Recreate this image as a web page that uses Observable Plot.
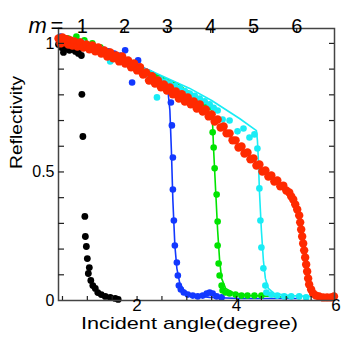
<!DOCTYPE html>
<html><head><meta charset="utf-8">
<script src="https://cdn.jsdelivr.net/npm/d3@7"></script>
<script src="https://cdn.jsdelivr.net/npm/@observablehq/plot@0.6"></script>
<style>body{margin:0;background:#fff} svg{display:block}</style>
</head><body><div id="chart"></div>
<script>
// Reflectivity vs incident angle (degree)
const blackPts = [[0.42,0.996],[0.48,0.984],[0.52,0.965],[0.58,0.981],[0.64,0.973],[0.70,0.977],[0.76,0.969],[0.82,0.961],[0.86,0.981],[0.88,0.953],[0.89,0.802],[0.91,0.638],[0.95,0.327],[0.96,0.249],[0.98,0.210],[1.00,0.163],[1.04,0.128],[1.02,0.105],[1.07,0.078],[1.11,0.058],[1.16,0.047],[1.21,0.031],[1.28,0.023],[1.36,0.016],[1.46,0.012],[1.56,0.008],[1.62,0.004]];

const bluePts = [[0.46,1.027],[0.58,1.019],[0.70,1.012],[0.82,1.008],[0.94,1.000],[1.06,0.992],[1.18,0.984],[1.30,0.977],[1.42,0.969],[1.54,0.961],[1.66,0.953],[1.76,0.973],[1.90,0.848],[2.02,0.934],[2.14,0.879],[2.26,0.864],[2.38,0.852],[2.50,0.837],[2.60,0.825],[2.68,0.770],[2.70,0.681],[2.72,0.556],[2.72,0.432],[2.74,0.311],[2.76,0.214],[2.80,0.148],[2.82,0.097],[2.84,0.058],[2.88,0.043],[2.94,0.031],[3.02,0.023],[3.12,0.019],[3.22,0.016],[3.32,0.019],[3.40,0.027],[3.46,0.031],[3.52,0.027],[3.60,0.016],[3.70,0.012]];
const blueCalc = [[0.42,1.019],[1.26,0.973],[2.26,0.895],[2.58,0.860],[2.62,0.817],[2.66,0.739],[2.69,0.584],[2.72,0.389],[2.76,0.214],[2.80,0.125],[2.86,0.066],[2.96,0.035],[3.16,0.019],[3.46,0.012],[4.06,0.008],[5.26,0.008]];

const greenPts = [[0.46,1.012],[0.62,1.019],[0.78,1.027],[0.94,1.012],[1.10,1.000],[1.26,0.985],[1.42,0.965],[1.58,0.948],[1.74,0.932],[1.90,0.916],[2.06,0.900],[2.22,0.884],[2.38,0.868],[2.54,0.853],[2.70,0.838],[2.86,0.822],[3.02,0.805],[3.18,0.786],[3.34,0.767],[3.46,0.752],[3.52,0.654],[3.54,0.595],[3.56,0.514],[3.60,0.412],[3.62,0.307],[3.62,0.214],[3.64,0.144],[3.66,0.097],[3.70,0.058],[3.72,0.039],[3.78,0.031],[3.86,0.027],[3.98,0.023],[4.10,0.019],[4.22,0.019],[4.36,0.019],[4.50,0.019]];
const greenCalc = [[0.42,1.019],[1.26,0.973],[2.26,0.887],[2.82,0.844],[3.06,0.805],[3.50,0.747],[3.52,0.681],[3.54,0.584],[3.58,0.428],[3.62,0.272],[3.66,0.156],[3.70,0.086],[3.78,0.047],[3.96,0.027],[4.26,0.019],[4.76,0.016],[5.06,0.012]];

const cyanPts = [[0.50,1.019],[0.70,1.012],[0.90,1.004],[1.10,0.990],[1.30,0.975],[1.46,0.930],[1.62,0.950],[1.82,0.932],[2.06,0.895],[2.26,0.875],[2.40,0.790],[2.46,0.860],[2.56,0.852],[2.66,0.844],[2.76,0.834],[2.86,0.825],[2.96,0.815],[3.06,0.805],[3.16,0.796],[3.26,0.786],[3.36,0.775],[3.46,0.763],[3.54,0.750],[3.62,0.739],[3.72,0.704],[3.86,0.700],[4.02,0.658],[4.14,0.669],[4.26,0.634],[4.36,0.646],[4.42,0.591],[4.46,0.436],[4.48,0.311],[4.50,0.206],[4.54,0.125],[4.58,0.058],[4.60,0.031],[4.70,0.023],[4.82,0.019],[4.96,0.016],[5.10,0.016],[5.26,0.016],[5.40,0.012]];
const cyanCalc = [[0.42,1.023],[1.26,0.973],[2.26,0.895],[3.06,0.825],[3.50,0.778],[4.06,0.708],[4.40,0.661],[4.42,0.623],[4.44,0.545],[4.46,0.428],[4.50,0.272],[4.54,0.156],[4.58,0.086],[4.64,0.047],[4.76,0.027],[5.06,0.019],[5.46,0.016],[5.86,0.012]];

const redX = [0.42,0.46,0.50,0.54,0.58,0.62,0.66,0.70,0.74,0.80,0.86,0.92,0.98,1.04,1.10,1.16,1.22,1.28,1.34,1.40,1.46,1.52,1.58,1.64,1.70,1.76,1.82,1.88,1.94,2.00,2.06,2.12,2.18,2.24,2.30,2.36,2.42,2.48,2.54,2.60,2.66,2.72,2.78,2.84,2.90,2.96,3.02,3.08,3.14,3.20,3.26,3.32,3.38,3.44,3.50,3.56,3.62,3.68,3.74,3.80,3.86,3.92,3.98,4.04,4.10,4.16,4.22,4.28,4.34,4.40,4.46,4.52,4.58,4.64,4.70,4.76,4.82,4.88,4.94,5.00,5.06,5.10,5.14,5.18,5.22,5.26,5.28,5.30,5.32,5.34,5.36,5.38,5.40,5.42,5.44,5.46,5.50,5.54,5.60,5.66,5.74,5.82,5.90,5.96];
const redY = [1.019,1.000,1.023,1.004,1.016,0.996,1.012,0.992,1.008,0.988,1.004,0.984,0.996,0.977,0.992,0.969,0.984,0.961,0.973,0.949,0.965,0.942,0.953,0.930,0.949,0.922,0.934,0.907,0.922,0.895,0.907,0.879,0.887,0.856,0.872,0.844,0.856,0.829,0.840,0.817,0.829,0.802,0.813,0.786,0.802,0.774,0.790,0.763,0.774,0.747,0.763,0.735,0.743,0.716,0.724,0.696,0.704,0.673,0.677,0.650,0.650,0.623,0.623,0.595,0.599,0.572,0.576,0.549,0.553,0.525,0.529,0.502,0.506,0.482,0.486,0.463,0.467,0.444,0.447,0.428,0.420,0.405,0.393,0.374,0.354,0.331,0.304,0.276,0.249,0.222,0.195,0.167,0.140,0.113,0.086,0.062,0.043,0.027,0.019,0.016,0.012,0.012,0.012,0.016];

// axes
const xTicks = [0.5,1,1.5,2,2.5,3,3.5,4,4.5,5,5.5];
const xLabels = [2,4,6];
const yTicks = [0.1,0.2,0.3,0.4,0.5,0.6,0.7,0.8,0.9,1.0];
const yLabels = [0,0.5,1];
const mLabels = [1,2,3,4,5,6];
const mAngles = [0.90,1.75,2.61,3.48,4.34,5.21];
const xTitle = "Incident angle(degree)";
const yTitle = "Reflectivity";

const pts = a => a.map(([x,y]) => ({x,y}));
const red = redX.map((x,i) => ({x, y: redY[i]}));
const C = {black:"#000000", blue:"#1238ff", green:"#00e400", cyan:"#19ecf5", red:"#ff2a00"};

const W = 341, H = 340, mL = 58, mR = 7, mT = 28, mB = 40;
const fw = W - mL - mR, fh = H - mT - mB;

const chart = Plot.plot({
  width: W, height: H,
  marginLeft: mL, marginRight: mR, marginTop: mT, marginBottom: mB,
  style: {fontFamily: "Liberation Sans, Arial, sans-serif", background: "#fff", color: "#000"},
  x: {domain: [0.42, 5.97], axis: null},
  y: {domain: [0, 1.058], axis: null},
  marks: [
    Plot.dot(pts(blackPts), {x:"x", y:"y", r:3.4, fill:C.black}),
    Plot.line(pts(blueCalc), {x:"x", y:"y", stroke:C.blue, strokeWidth:1.6}),
    Plot.dot(pts(bluePts), {x:"x", y:"y", r:3.3, fill:C.blue}),
    Plot.line(pts(greenCalc), {x:"x", y:"y", stroke:C.green, strokeWidth:1.6}),
    Plot.dot(pts(greenPts), {x:"x", y:"y", r:3.3, fill:C.green}),
    Plot.line(pts(cyanCalc), {x:"x", y:"y", stroke:C.cyan, strokeWidth:1.6}),
    Plot.dot(pts(cyanPts), {x:"x", y:"y", r:3.3, fill:C.cyan}),
    Plot.dot(red, {x:"x", y:"y", r:4.2, fill:C.red}),
    Plot.frame({stroke:"#444", strokeWidth:1.5}),
    // inward ticks
    Plot.tickX(xTicks, {x: d=>d, insetTop: fh-4, stroke:"#222", strokeWidth:1.2}),
    Plot.tickX(mAngles, {x: d=>d, insetBottom: fh-5, stroke:"#222", strokeWidth:1.2}),
    Plot.tickY(yTicks, {y: d=>d, insetRight: fw-6, stroke:"#222", strokeWidth:1.2}),
    Plot.tickY(yTicks, {y: d=>d, insetLeft: fw-5, stroke:"#222", strokeWidth:1.2}),
    // tick labels
    Plot.text(xLabels, {x: d=>d, text: d=>String(d), frameAnchor:"bottom", dy:10, fontSize:17, fill:"#000"}),
    Plot.text(yLabels, {y: d=>d, text: d=>String(d), frameAnchor:"left", textAnchor:"end", dx:-4, fontSize:16, fill:"#000"}),
    Plot.text(mLabels, {x: (d,i)=>mAngles[i], text: d=>String(d), frameAnchor:"top", dy:-10, fontSize:20, fill:"#000"}),
    Plot.text(["m"], {frameAnchor:"top-left", textAnchor:"start", dx:-30, dy:-11, fontSize:22, fontStyle:"italic", fill:"#000"}),
    Plot.text(["="], {frameAnchor:"top-left", textAnchor:"start", dx:-8, dy:-11, fontSize:22, fill:"#000"}),
    // titles
    Plot.text([xTitle], {frameAnchor:"bottom", dy:28.5, dx:-7, fontSize:17, fill:"#000"}),
    Plot.text([yTitle], {frameAnchor:"left", rotate:-90, dx:-42, dy:4.5, fontSize:17, fill:"#000"})
  ]
});
document.getElementById("chart").appendChild(chart);
d3.select(chart).selectAll("text").each(function(){
  const t = this.textContent;
  if (t === xTitle) d3.select(this).attr("textLength", 217).attr("lengthAdjust", "spacingAndGlyphs");
  if (t === yTitle) d3.select(this).attr("textLength", 93).attr("lengthAdjust", "spacingAndGlyphs");
});
</script></body></html>
